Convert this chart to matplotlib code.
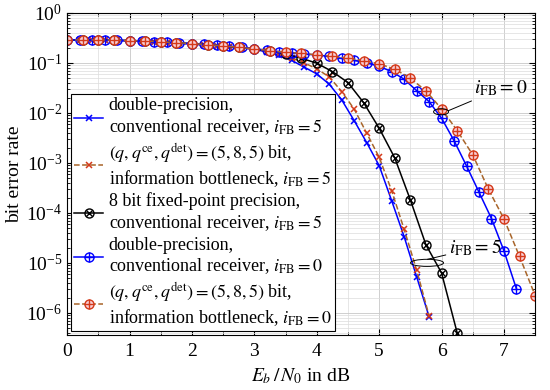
import numpy as np
import matplotlib
matplotlib.use('Agg')
import matplotlib.pyplot as plt
from matplotlib.patches import Ellipse
from matplotlib.legend_handler import HandlerTuple
from matplotlib.ticker import LogLocator, NullFormatter

plt.rcParams['font.family'] = ['Liberation Serif', 'DejaVu Serif']
plt.rcParams['mathtext.fontset'] = 'stix'

# Eb/N0 grids (dB)
snr_x = [0.0, 0.2, 0.4, 0.6, 0.8, 1.0, 1.2, 1.4, 1.6, 1.8, 2.0, 2.2, 2.4, 2.6, 2.8,
         3.0, 3.2, 3.4, 3.6, 3.8, 4.0, 4.2, 4.4, 4.6, 4.8, 5.0, 5.2, 5.4, 5.6, 5.8]
snr_q = [0.0, 0.25, 0.5, 0.75, 1.0, 1.25, 1.5, 1.75, 2.0, 2.25, 2.5, 2.75, 3.0,
         3.25, 3.5, 3.75, 4.0, 4.25, 4.5, 4.75, 5.0, 5.25, 5.5, 5.75, 6.0, 6.25,
         6.5, 6.75, 7.0, 7.25, 7.5]
snr_p = [0.0, 0.2, 0.4, 0.6, 0.8, 1.0, 1.2, 1.4, 1.6, 1.8, 2.0, 2.2, 2.4, 2.6, 2.8,
         3.0, 3.2, 3.4, 3.6, 3.8, 4.0, 4.2, 4.4, 4.6, 4.8, 5.0, 5.2, 5.4, 5.6, 5.8,
         6.0, 6.2, 6.4, 6.6, 6.8, 7.0, 7.2]

# double precision, conventional, iFB = 5
ber_dp5 = [0.288, 0.288, 0.288, 0.285, 0.282, 0.275, 0.269, 0.263, 0.254, 0.245,
           0.237, 0.229, 0.221, 0.211, 0.200, 0.186, 0.166, 0.141, 0.112, 0.082,
           0.0603, 0.0375, 0.0182, 7.0e-3, 2.55e-3, 8.83e-4, 1.76e-4, 3.36e-5,
           5.32e-6, 8.4e-7]
# information bottleneck, iFB = 5
ber_ib5 = [0.288, 0.288, 0.288, 0.285, 0.282, 0.275, 0.269, 0.263, 0.254, 0.245,
           0.237, 0.229, 0.221, 0.211, 0.200, 0.186, 0.170, 0.148, 0.126, 0.100,
           0.0759, 0.0525, 0.0267, 0.0119, 3.93e-3, 1.30e-3, 2.79e-4, 4.72e-5,
           7.24e-6, 8.7e-7]
# 8 bit fixed point, conventional, iFB = 5
ber_fx5 = [0.288, 0.288, 0.288, 0.285, 0.279, 0.272, 0.263, 0.254, 0.243, 0.232,
           0.219, 0.204, 0.191, 0.174, 0.151, 0.124, 0.0986, 0.067, 0.0404, 0.0161,
           4.94e-3, 1.26e-3, 1.82e-4, 2.29e-5, 6.3e-6, 4.0e-7]
# double precision, conventional, iFB = 0
ber_dp0 = [0.288, 0.288, 0.288, 0.285, 0.282, 0.277, 0.272, 0.265, 0.258, 0.250,
           0.242, 0.234, 0.225, 0.215, 0.204, 0.191, 0.178, 0.168, 0.160, 0.151,
           0.143, 0.135, 0.123, 0.112, 0.100, 0.0851, 0.067, 0.0472, 0.0279,
           0.0168, 7.83e-3, 2.79e-3, 8.71e-4, 2.59e-4, 7.69e-5, 1.74e-5, 3.02e-6]
# information bottleneck, iFB = 0
ber_ib0 = [0.288, 0.288, 0.288, 0.285, 0.279, 0.272, 0.263, 0.254, 0.243, 0.232,
           0.219, 0.204, 0.191, 0.176, 0.162, 0.155, 0.145, 0.136, 0.124, 0.111,
           0.0955, 0.0748, 0.0494, 0.0275, 0.0120, 4.43e-3, 1.45e-3, 2.98e-4,
           7.59e-5, 1.34e-5, 2.22e-6]

y_ticks = [1e-6, 1e-5, 1e-4, 1e-3, 1e-2, 1e-1, 1e0]

labels = [
    'double-precision,\nconventional receiver, $i_\\mathrm{FB}=5$',
    '$(q,q^\\mathrm{ce},q^\\mathrm{det})=(5,8,5)$ bit,\ninformation bottleneck, $i_\\mathrm{FB}=5$',
    '8 bit fixed-point precision,\nconventional receiver, $i_\\mathrm{FB}=5$',
    'double-precision,\nconventional receiver, $i_\\mathrm{FB}=0$',
    '$(q,q^\\mathrm{ce},q^\\mathrm{det})=(5,8,5)$ bit,\ninformation bottleneck, $i_\\mathrm{FB}=0$',
]

blue = '#0000ff'
brown = '#a8652a'
red = '#d43a1a'

fig = plt.figure(figsize=(5.5, 3.9), dpi=100)
ax = fig.add_axes([0.122, 0.141, 0.851, 0.826])

h1, = ax.plot(snr_x, ber_dp5, '-', color=blue, lw=1.1, marker='x', ms=5, mew=1.1)
h2, = ax.plot(snr_x, ber_ib5, '--', color=brown, lw=1.1, marker='x', ms=5, mew=1.1,
              mec=red)
h3a, = ax.plot(snr_q[:len(ber_fx5)], ber_fx5, '-', color='black', lw=1.1, marker='o',
               ms=6.5, mfc='none', mew=1.0)
h3b, = ax.plot(snr_q[:len(ber_fx5)], ber_fx5, ls='none', color='black', marker='x',
               ms=4.2, mew=1.0)
h4a, = ax.plot(snr_p, ber_dp0, '-', color=blue, lw=1.1, marker='o', ms=6.5, mfc='none',
               mew=1.0)
h4b, = ax.plot(snr_p, ber_dp0, ls='none', color=blue, marker='+', ms=6.5, mew=1.0)
h5a, = ax.plot(snr_q, ber_ib0, '--', color=brown, lw=1.1, marker='o', ms=6.5,
               mfc='#f9d0d8', mec=red, mew=1.0)
h5b, = ax.plot(snr_q, ber_ib0, ls='none', color=red, marker='+', ms=6.5, mew=1.0)

ax.set_yscale('log')
ax.set_xlim(0, 7.5)
ax.set_ylim(3.6e-7, 1)
ax.set_xticks(range(0, 8))
ax.set_xticks(np.arange(0.5, 7.5, 1.0), minor=True)
ax.set_yticks(y_ticks)
ax.yaxis.set_minor_locator(LogLocator(base=10, subs=np.arange(2, 10), numticks=20))
ax.yaxis.set_minor_formatter(NullFormatter())
ax.set_ylim(3.6e-7, 1)
ax.grid(True, which='major', color='#c8c8c8', lw=0.6)
ax.grid(True, which='minor', color='#dcdcdc', lw=0.5)
ax.tick_params(which='both', direction='in', top=True, right=True, labelsize=14)
ax.tick_params(which='major', length=4)
ax.tick_params(which='minor', length=2)
ax.tick_params(axis='x', pad=6)
ax.set_xlabel('$E_b\\,/\\,N_0$ in dB', fontsize=14, labelpad=4)
ax.set_ylabel('bit error rate', fontsize=14, labelpad=2)

leg = ax.legend([h1, h2, (h3a, h3b), (h4a, h4b), (h5a, h5b)], labels,
                handler_map={tuple: HandlerTuple(ndivide=1)},
                loc='lower left', fontsize=13, handlelength=1.6, handletextpad=0.3,
                labelspacing=0.2, borderpad=0.2, borderaxespad=0.2, fancybox=False,
                framealpha=1, edgecolor='black')
leg.get_frame().set_linewidth(0.8)

# annotations
ax.add_patch(Ellipse((0.799, 0.693), 0.032, 0.019, transform=ax.transAxes,
                     fill=False, lw=0.7, zorder=5))
ax.annotate('$i_\\mathrm{FB}=0$', xy=(0.814, 0.696), xycoords='axes fraction',
            xytext=(0.87, 0.765), textcoords='axes fraction', fontsize=14,
            va='center', arrowprops=dict(arrowstyle='-', lw=0.7, shrinkA=0, shrinkB=0))
ax.add_patch(Ellipse((0.769, 0.224), 0.0705, 0.022, transform=ax.transAxes,
                     fill=False, lw=0.7, zorder=5))
ax.annotate('$i_\\mathrm{FB}=5$', xy=(0.77, 0.235), xycoords='axes fraction',
            xytext=(0.815, 0.27), textcoords='axes fraction', fontsize=14,
            va='center', arrowprops=dict(arrowstyle='-', lw=0.7, shrinkA=0, shrinkB=0))

fig.savefig('out.png', dpi=100)
